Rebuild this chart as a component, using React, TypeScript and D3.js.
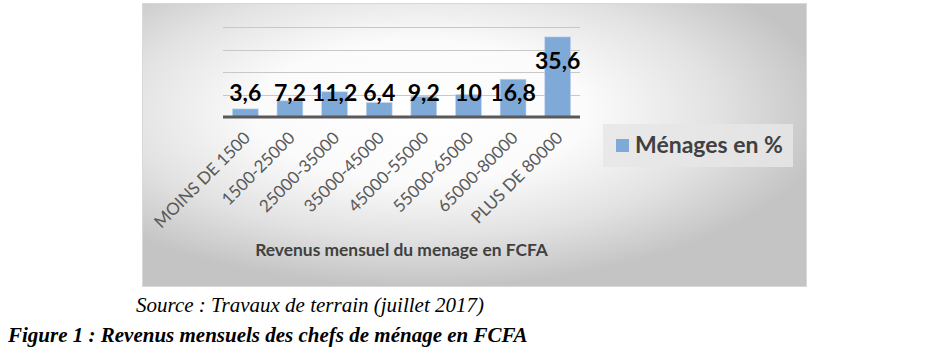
import React from "react";
import * as d3 from "d3";

const categories = [
  "MOINS DE 1500",
  "1500-25000",
  "25000-35000",
  "35000-45000",
  "45000-55000",
  "55000-65000",
  "65000-80000",
  "PLUS DE 80000",
];
const values = [3.6, 7.2, 11.2, 6.4, 9.2, 10, 16.8, 35.6];
const valueLabels = ["3,6", "7,2", "11,2", "6,4", "9,2", "10", "16,8", "35,6"];
const yTicks = [0, 10, 20, 30, 40];
const seriesName = "Ménages en %";
const axisTitle = "Revenus mensuel du menage en FCFA";
const sourceText = "Source : Travaux de terrain (juillet 2017)";
const figureText = "Figure 1 : Revenus mensuels des chefs de ménage en FCFA";

export default function App() {
  const W = 952;
  const H = 358;
  const plot = { left: 223, right: 580, top: 27, bottom: 117 };
  const x = d3
    .scaleBand<string>()
    .domain(categories)
    .range([plot.left, plot.right])
    .paddingInner(0.42)
    .paddingOuter(0.21);
  const y = d3.scaleLinear().domain([0, 40]).range([plot.bottom, plot.top]);
  const font = "Lato, 'Open Sans', sans-serif";

  return (
    <svg
      width={W}
      height={H}
      style={{ position: "absolute", left: 0, top: 0, display: "block" }}
    >
      <defs>
        <radialGradient id="bg" cx="0.42" cy="0.38" r="0.62" fx="0.42" fy="0.38">
          <stop offset="0" stopColor="#ffffff" />
          <stop offset="0.4" stopColor="#fbfbfb" />
          <stop offset="0.72" stopColor="#e2e2e2" />
          <stop offset="1" stopColor="#c4c4c4" />
        </radialGradient>
      </defs>
      <rect x={0} y={0} width={W} height={H} fill="#ffffff" />
      <rect x={142.5} y={3.5} width={664} height={283} fill="url(#bg)" stroke="#d9d9d9" strokeWidth={1} />

      {yTicks
        .filter((t) => t > 0)
        .map((t) => (
          <line
            key={t}
            x1={plot.left}
            x2={plot.right}
            y1={Math.round(y(t)) + 0.5}
            y2={Math.round(y(t)) + 0.5}
            stroke="#c8c8c8"
            strokeWidth={1}
          />
        ))}

      {categories.map((c, i) => (
        <rect
          key={c}
          x={x(c)}
          y={y(values[i])}
          width={x.bandwidth()}
          height={y(0) - y(values[i])}
          fill="#7faad8"
          stroke="#c5d8ee"
          strokeWidth={0.6}
        />
      ))}

      <line x1={plot.left} x2={plot.right} y1={y(0)} y2={y(0)} stroke="#595959" strokeWidth={3} />

      {categories.map((c, i) => {
        const cx = (x(c) as number) + x.bandwidth() / 2;
        const ly = Math.min(y(values[i]) + 32, y(0) - 16);
        return (
          <text
            key={"l" + c}
            x={cx}
            y={ly}
            textAnchor="middle"
            fontFamily={font}
            fontWeight="bold"
            fontSize={23}
            fill="#000000"
          >
            {valueLabels[i]}
          </text>
        );
      })}

      {categories.map((c) => {
        const cx = (x(c) as number) + x.bandwidth() / 2 + 6;
        const ty = y(0) + 22;
        return (
          <text
            key={"t" + c}
            transform={`translate(${cx},${ty}) rotate(-45)`}
            textAnchor="end"
            fontFamily={font}
            fontSize={17}
            fill="#595959"
          >
            {c}
          </text>
        );
      })}

      <text
        x={(plot.left + plot.right) / 2}
        y={256}
        textAnchor="middle"
        fontFamily={font}
        fontWeight="bold"
        fontSize={17.4}
        fill="#404040"
      >
        {axisTitle}
      </text>

      <rect x={603} y={124} width={190} height={43} fill="#e6e6e6" opacity={0.85} />
      <rect x={616} y={139} width={13} height={13} fill="#7faad8" />
      <text x={635} y={153} fontFamily={font} fontWeight="bold" fontSize={23} fill="#404040">
        {seriesName}
      </text>

      <text
        x={136}
        y={311.5}
        fontFamily="'Liberation Serif', 'Times New Roman', serif"
        fontStyle="italic"
        fontSize={21}
        fill="#000"
      >
        {sourceText}
      </text>
      <text
        x={8}
        y={341.5}
        fontFamily="'Liberation Serif', 'Times New Roman', serif"
        fontStyle="italic"
        fontWeight="bold"
        fontSize={21}
        fill="#000"
      >
        {figureText}
      </text>
    </svg>
  );
}
